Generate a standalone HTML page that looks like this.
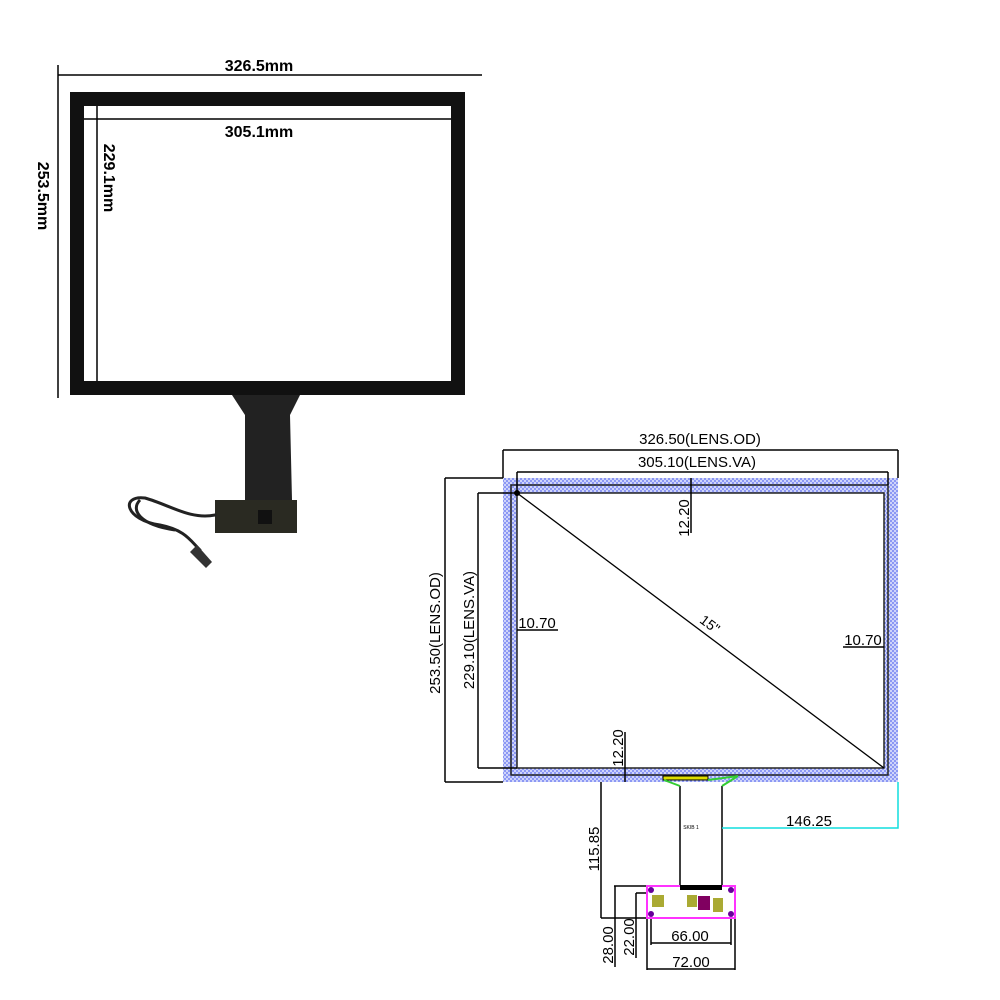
<!DOCTYPE html>
<html><head><style>body{margin:0;background:#fff}svg{display:block}text{font-family:"Liberation Sans",sans-serif}</style></head><body>
<svg width="1000" height="1000" viewBox="0 0 1000 1000" xmlns="http://www.w3.org/2000/svg">
<defs>
<pattern id="h" width="4" height="4" patternUnits="userSpaceOnUse">
<rect width="4" height="4" fill="#8c98f4"/><circle cx="1" cy="1" r="0.9" fill="#fff"/><circle cx="3" cy="3" r="0.9" fill="#fff"/>
</pattern>
</defs>
<!-- left photo -->
<rect x="70" y="92" width="395" height="303" fill="#111"/>
<rect x="84" y="106" width="367" height="275" fill="#fff"/>
<line x1="58" y1="75" x2="482" y2="75" stroke="#000" stroke-width="1.5"/>
<line x1="58" y1="65" x2="58" y2="398" stroke="#000" stroke-width="1.5"/>
<line x1="84" y1="119" x2="451" y2="119" stroke="#000" stroke-width="1.5"/>
<line x1="97" y1="106" x2="97" y2="381" stroke="#000" stroke-width="1.5"/>
<text x="259" y="71" font-size="16" font-weight="bold" text-anchor="middle">326.5mm</text>
<text x="259" y="137" font-size="16" font-weight="bold" text-anchor="middle">305.1mm</text>
<text transform="translate(38,196) rotate(90)" font-size="16" font-weight="bold" text-anchor="middle">253.5mm</text>
<text transform="translate(104,178) rotate(90)" font-size="16" font-weight="bold" text-anchor="middle">229.1mm</text>
<path d="M232 395 L300 395 L290 415 L292 500 L245 500 L245 415 Z" fill="#222"/>
<rect x="215" y="500" width="82" height="33" fill="#2a2a22"/>
<rect x="258" y="510" width="14" height="14" fill="#111"/>
<path d="M215 515 C190 520 170 505 145 498 C120 495 125 520 160 525 C185 530 190 540 200 550" fill="none" stroke="#222" stroke-width="3" stroke-linecap="round"/>
<path d="M140 500 C130 510 140 525 175 530" fill="none" stroke="#222" stroke-width="3"/>
<path d="M197 545 L212 562 L206 568 L190 552 Z" fill="#333"/>
<!-- right drawing -->
<path fill-rule="evenodd" fill="url(#h)" d="M503 478 H898 V782 H503 Z M517 493 H884 V768 H517 Z"/>
<rect x="511" y="485" width="377" height="290" fill="none" stroke="#222" stroke-width="1.5"/>
<rect x="517" y="493" width="367" height="275" fill="#fff" stroke="#222" stroke-width="1.5"/>
<line x1="517" y1="493" x2="884" y2="768" stroke="#000" stroke-width="1.3"/>
<circle cx="517" cy="493" r="3" fill="#000"/>
<text transform="translate(707,628) rotate(37)" font-size="14" text-anchor="middle">15"</text>
<g stroke="#000" stroke-width="1.5" fill="none">
<line x1="503" y1="450" x2="898" y2="450"/><line x1="503" y1="450" x2="503" y2="478"/><line x1="898" y1="450" x2="898" y2="478"/>
<line x1="517" y1="472" x2="888" y2="472"/><line x1="517" y1="472" x2="517" y2="493"/><line x1="888" y1="472" x2="888" y2="485"/>
<line x1="445" y1="478" x2="503" y2="478"/><line x1="445" y1="478" x2="445" y2="782"/><line x1="445" y1="782" x2="503" y2="782"/>
<line x1="478" y1="493" x2="517" y2="493"/><line x1="478" y1="493" x2="478" y2="768"/><line x1="478" y1="768" x2="517" y2="768"/>
<line x1="691" y1="478" x2="691" y2="533"/>
<line x1="625" y1="732" x2="625" y2="782"/>
<line x1="517" y1="630" x2="558" y2="630"/>
<line x1="843" y1="647" x2="884" y2="647"/>
<line x1="601" y1="782" x2="601" y2="918"/>
<line x1="680" y1="786" x2="680" y2="886"/><line x1="722" y1="786" x2="722" y2="886"/>
<line x1="614" y1="886" x2="651" y2="886"/><line x1="615" y1="886" x2="615" y2="967"/>
<line x1="636" y1="893" x2="651" y2="893"/><line x1="636" y1="893" x2="636" y2="958"/>
<line x1="601" y1="918" x2="651" y2="918"/>
<line x1="651" y1="918" x2="651" y2="945"/><line x1="731" y1="918" x2="731" y2="945"/><line x1="651" y1="943" x2="731" y2="943"/>
<line x1="647" y1="918" x2="647" y2="970"/><line x1="735" y1="918" x2="735" y2="970"/><line x1="647" y1="969" x2="735" y2="969"/>
</g>
<rect x="663" y="776" width="45" height="4" fill="#dd0" stroke="#000"/>
<path d="M664 780 L680 786 M708 780 L738 776 M722 786 L738 776" stroke="#3c3" stroke-width="2"/>
<path d="M722 828 H898 V782" stroke="#1dd" stroke-width="1.5" fill="none"/>
<rect x="647" y="886" width="88" height="32" fill="#fff" stroke="#f3f" stroke-width="2"/>
<rect x="680" y="885" width="42" height="5" fill="#000"/>
<rect x="652" y="895" width="12" height="12" fill="#aa3"/><rect x="687" y="895" width="10" height="12" fill="#aa3"/>
<rect x="698" y="896" width="12" height="14" fill="#800060"/><rect x="713" y="898" width="10" height="14" fill="#aa3"/>
<circle cx="651" cy="890" r="3" fill="#609"/><circle cx="731" cy="890" r="3" fill="#609"/><circle cx="651" cy="914" r="3" fill="#609"/><circle cx="731" cy="914" r="3" fill="#609"/>
<text x="691" y="829" font-size="5" text-anchor="middle">SKIB 1</text>
<g font-size="15">
<text x="700" y="444" text-anchor="middle">326.50(LENS.OD)</text>
<text x="697" y="467" text-anchor="middle">305.10(LENS.VA)</text>
<text transform="translate(689,518) rotate(-90)" text-anchor="middle">12.20</text>
<text transform="translate(623,748) rotate(-90)" text-anchor="middle">12.20</text>
<text x="537" y="628" text-anchor="middle">10.70</text>
<text x="863" y="645" text-anchor="middle">10.70</text>
<text transform="translate(440,633) rotate(-90)" text-anchor="middle">253.50(LENS.OD)</text>
<text transform="translate(474,630) rotate(-90)" text-anchor="middle">229.10(LENS.VA)</text>
<text x="809" y="826" text-anchor="middle">146.25</text>
<text transform="translate(599,849) rotate(-90)" text-anchor="middle">115.85</text>
<text x="690" y="941" text-anchor="middle">66.00</text>
<text x="691" y="967" text-anchor="middle">72.00</text>
<text transform="translate(613,945) rotate(-90)" text-anchor="middle">28.00</text>
<text transform="translate(634,937) rotate(-90)" text-anchor="middle">22.00</text>
</g>
</svg>
</body></html>
